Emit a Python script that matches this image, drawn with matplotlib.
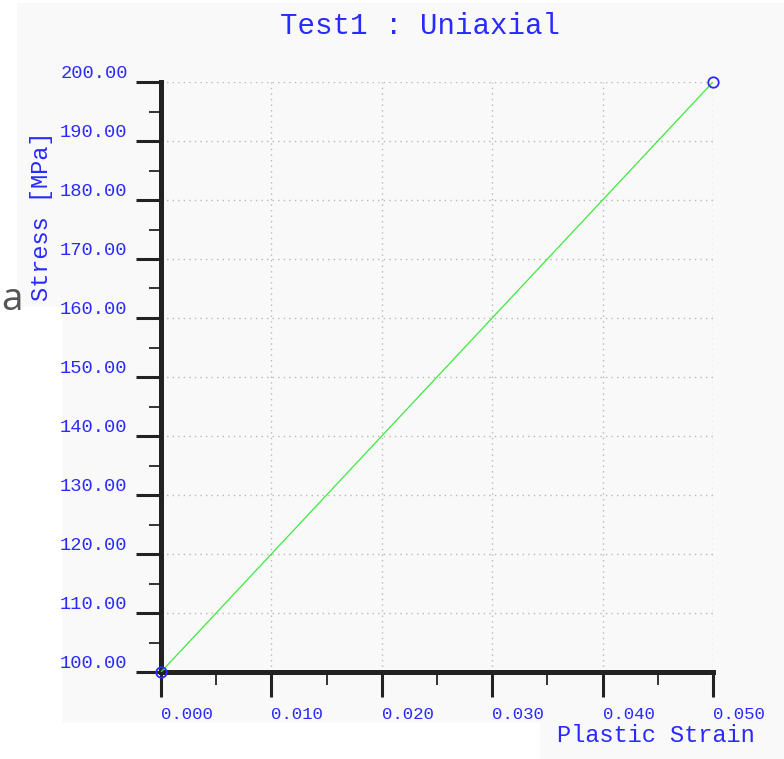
import matplotlib
matplotlib.use("Agg")
import matplotlib.pyplot as plt
from matplotlib.patches import Rectangle
from matplotlib.ticker import MultipleLocator, FormatStrFormatter

# curve points
strain = [0.0, 0.05]
stress = [100.0, 200.0]

x_ticks = [0.0, 0.01, 0.02, 0.03, 0.04, 0.05]
y_ticks = [100, 110, 120, 130, 140, 150, 160, 170, 180, 190, 200]

BLUE = "#2a2aff"
FONT = "Liberation Mono"
W, H = 784, 759

fig = plt.figure(figsize=(W / 100, H / 100), dpi=100)
fig.patch.set_facecolor("white")


def px_rect(x0, y0, x1, y1, color="#f9f9f9"):
    # rectangle given in pixel coords (top-left origin)
    fig.patches.append(Rectangle((x0 / W, 1 - y1 / H), (x1 - x0) / W, (y1 - y0) / H,
                                 transform=fig.transFigure, facecolor=color,
                                 edgecolor="none", zorder=-10))


# screenshot background panels
px_rect(17, 3, 784, 307)
px_rect(62, 307, 784, 723)
px_rect(540, 723, 784, 759)

ax = fig.add_axes([161 / W, 1 - 672 / H, (713 - 161) / W, (672 - 82) / H])
ax.set_facecolor("none")

ax.plot(strain, stress, color="#3ee83e", lw=0.9, zorder=3)
ax.plot(strain, stress, ls="none", marker="o", ms=7.5, mfc="none", mec=BLUE, mew=1.3,
        clip_on=False, zorder=4)

ax.set_xlim(x_ticks[0], x_ticks[-1])
ax.set_ylim(y_ticks[0], y_ticks[-1])
ax.set_xticks(x_ticks)
ax.set_yticks(y_ticks)
ax.xaxis.set_minor_locator(MultipleLocator(0.005))
ax.yaxis.set_minor_locator(MultipleLocator(5))
ax.xaxis.set_major_formatter(FormatStrFormatter("%.3f"))
ax.yaxis.set_major_formatter(FormatStrFormatter("%.2f"))

for side in ["top", "right"]:
    ax.spines[side].set_visible(False)
for side in ["left", "bottom"]:
    ax.spines[side].set_linewidth(3.6)
    ax.spines[side].set_color("#222222")
    ax.spines[side].set_capstyle("projecting")

ax.tick_params(which="major", direction="out", length=18, width=2.2, color="#222222",
               labelcolor=BLUE, labelsize=13.5, pad=6)
ax.tick_params(which="minor", direction="out", length=9, width=1.4, color="#333333")
ax.tick_params(axis="x", labelsize=12.5, pad=7)

for lab in ax.get_xticklabels():
    lab.set_fontfamily(FONT)
    lab.set_horizontalalignment("left")
for lab in ax.get_yticklabels():
    lab.set_fontfamily(FONT)
    lab.set_verticalalignment("bottom")

ax.grid(True, which="major", ls=(0, (1, 3)), color="#b8b8b8", lw=1.0)
ax.set_axisbelow(True)

fig.text(420 / W, 1 - 26 / H, "Test1 : Uniaxial", family=FONT, fontsize=21,
         color=BLUE, ha="center", va="center")
fig.text(656 / W, 1 - 736 / H, "Plastic Strain", family=FONT, fontsize=17,
         color=BLUE, ha="center", va="center")
fig.text(42 / W, 1 - 216 / H, "Stress [MPa]", family=FONT, fontsize=17,
         color=BLUE, ha="center", va="center", rotation=90)

# stray letter from the neighbouring page
fig.text(1 / W, 1 - 300 / H, "a", family="Open Sans", fontsize=28,
         color="#555555", ha="left", va="center")

fig.savefig("out.png", dpi=100, facecolor=fig.get_facecolor())
